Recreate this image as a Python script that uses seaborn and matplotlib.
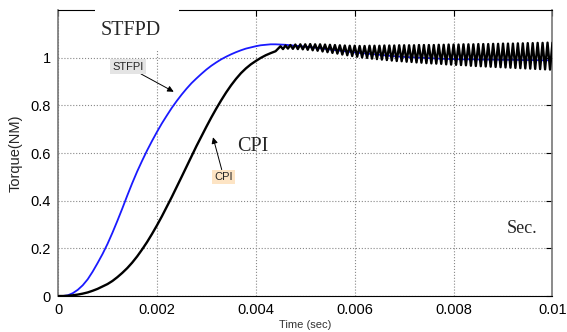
import numpy as np
import pandas as pd
import matplotlib
matplotlib.use('Agg')
import matplotlib.pyplot as plt
from matplotlib.patches import Rectangle
import seaborn as sns

# STFPI (blue) torque: every 0.1 ms from 0 to 5 ms ...
stfpi_rise_time = np.round(np.arange(0, 51) * 0.0001, 6)
stfpi_rise = [
    0.000, 0.000, 0.003, 0.012, 0.026, 0.045, 0.070, 0.102, 0.138, 0.176,
    0.218, 0.265, 0.315, 0.367, 0.421, 0.473, 0.522, 0.567, 0.610, 0.650,
    0.688, 0.724, 0.757, 0.789, 0.818, 0.845, 0.870, 0.893, 0.913, 0.932,
    0.950, 0.966, 0.980, 0.993, 1.004, 1.014, 1.023, 1.031, 1.038, 1.043,
    1.048, 1.052, 1.054, 1.056, 1.056, 1.055, 1.054, 1.052, 1.050, 1.048,
    1.046,
]
# ... then every 0.2 ms from 5.2 ms to 10 ms
stfpi_tail_time = np.round(0.005 + np.arange(1, 26) * 0.0002, 6)
stfpi_tail = [
    1.042, 1.037, 1.032, 1.027, 1.022, 1.018, 1.014, 1.010, 1.006, 1.003,
    1.001, 0.999, 0.997, 0.995, 0.994, 0.993, 0.993, 0.992, 0.992, 0.991,
    0.991, 0.990, 0.990, 0.989, 0.989,
]

# CPI (black) rise, every 0.1 ms from 0 to 4.4 ms
cpi_rise_time = np.round(np.arange(0, 45) * 0.0001, 6)
cpi_rise = [
    0.000, 0.000, 0.001, 0.003, 0.006, 0.010, 0.015, 0.022, 0.030, 0.040,
    0.050, 0.063, 0.079, 0.097, 0.117, 0.140, 0.166, 0.195, 0.226, 0.260,
    0.296, 0.334, 0.374, 0.415, 0.457, 0.500, 0.543, 0.586, 0.629, 0.670,
    0.710, 0.749, 0.786, 0.821, 0.854, 0.884, 0.911, 0.935, 0.955, 0.972,
    0.986, 0.999, 1.010, 1.019, 1.027,
]

# CPI ripple: peaks every 0.1 ms from 4.5 ms, troughs half a period later
cpi_peaks = [
    1.048, 1.051, 1.053, 1.055, 1.056, 1.056, 1.057, 1.056, 1.056, 1.055,
    1.054, 1.053, 1.052, 1.051, 1.050, 1.050, 1.049, 1.049, 1.050, 1.050,
    1.050, 1.051, 1.051, 1.051, 1.052, 1.052, 1.052, 1.052, 1.053, 1.053,
    1.053, 1.053, 1.054, 1.054, 1.055, 1.055, 1.055, 1.056, 1.056, 1.056,
    1.057, 1.057, 1.057, 1.058, 1.058, 1.059, 1.059, 1.059, 1.060, 1.060,
    1.061, 1.061, 1.062, 1.062, 1.063, 1.063,
]
cpi_troughs = [
    1.036, 1.038, 1.037, 1.036, 1.035, 1.033, 1.031, 1.029, 1.026, 1.023,
    1.020, 1.017, 1.013, 1.010, 1.007, 1.004, 1.001, 0.999, 0.996, 0.994,
    0.992, 0.990, 0.988, 0.986, 0.985, 0.983, 0.982, 0.980, 0.979, 0.977,
    0.976, 0.975, 0.974, 0.972, 0.971, 0.970, 0.969, 0.968, 0.966, 0.965,
    0.964, 0.963, 0.962, 0.961, 0.960, 0.959, 0.958, 0.957, 0.956, 0.955,
    0.954, 0.953, 0.952, 0.951, 0.950,
]

x_ticks = [0, 0.002, 0.004, 0.006, 0.008, 0.01]
x_tick_labels = ['0', '0.002', '0.004', '0.006', '0.008', '0.01']
y_ticks = [0, 0.2, 0.4, 0.6, 0.8, 1.0]
y_tick_labels = ['0', '0.2', '0.4', '0.6', '0.8', '1']

# assemble the CPI series: rise, then alternating peak / trough
ripple_time = []
ripple_val = []
for k, p in enumerate(cpi_peaks):
    ripple_time.append(round(0.0045 + k * 0.0001, 6))
    ripple_val.append(p)
    if k < len(cpi_troughs):
        ripple_time.append(round(0.00455 + k * 0.0001, 6))
        ripple_val.append(cpi_troughs[k])

df = pd.concat([
    pd.DataFrame({'time': np.concatenate([stfpi_rise_time, stfpi_tail_time]),
                  'torque': stfpi_rise + stfpi_tail, 'ctrl': 'STFPI'}),
    pd.DataFrame({'time': np.concatenate([cpi_rise_time, ripple_time]),
                  'torque': cpi_rise + ripple_val, 'ctrl': 'CPI'}),
])

sns.set_style('white')
plt.rcParams['font.family'] = ['Liberation Sans', 'DejaVu Sans']

fig = plt.figure(figsize=(5.67, 3.32), dpi=100)
ax = fig.add_axes([0.1023, 0.1084, 0.8721, 0.8615])

sns.lineplot(data=df[df.ctrl == 'STFPI'], x='time', y='torque', color='#1a1aff',
             linewidth=1.3, estimator=None, sort=False, ax=ax, zorder=3)
sns.lineplot(data=df[df.ctrl == 'CPI'], x='time', y='torque', color='black',
             linewidth=1.7, estimator=None, sort=False, ax=ax, zorder=4)

ax.set_xlim(0, 0.01)
ax.set_ylim(0, 1.2)
ax.set_xticks(x_ticks)
ax.set_xticklabels(x_tick_labels)
ax.set_yticks(y_ticks)
ax.set_yticklabels(y_tick_labels)
ax.tick_params(direction='in', top=True, right=True, length=4, width=0.8,
               labelsize=10.5, pad=5, colors='black')
ax.grid(True, linestyle=':', color='#888888', linewidth=0.8)

for side in ['top', 'bottom']:
    ax.spines[side].set_color('black')
for side in ['left', 'right']:
    ax.spines[side].set_color('#777777')
    ax.spines[side].set_linewidth(1.2)

ax.set_xlabel('Time (sec)', fontsize=8, color='#333333', labelpad=2)
ax.set_ylabel('Torque(NM)', fontsize=10.5, labelpad=6)

# white patch over the top frame behind the "STFPD" title
ax.add_patch(Rectangle((0.0748, 0.86), 0.170, 0.15, transform=ax.transAxes,
                       facecolor='white', edgecolor='none', clip_on=False, zorder=5))

ax.text(0.00146, 1.116, 'STFPD', family='Liberation Serif', fontsize=14.5,
        ha='center', va='center', zorder=6)
ax.text(0.00394, 0.627, 'CPI', family='Liberation Serif', fontsize=14.5,
        ha='center', va='center', zorder=6)
ax.text(0.00938, 0.283, 'Sec.', family='Liberation Serif', fontsize=13,
        ha='center', va='center', zorder=6)

ax.annotate('STFPI', xy=(0.00234, 0.857), xytext=(0.00141, 0.962),
            fontsize=8, ha='center', va='center', zorder=6,
            bbox=dict(boxstyle='square,pad=0.2', fc='#e4e4e4', ec='none'),
            arrowprops=dict(arrowstyle='-|>', color='black', lw=0.7,
                            mutation_scale=9, shrinkA=0, shrinkB=0))
ax.annotate('CPI', xy=(0.003135, 0.666), xytext=(0.00335, 0.50),
            fontsize=8, ha='center', va='center', zorder=6,
            bbox=dict(boxstyle='square,pad=0.2', fc='#fde4c4', ec='none'),
            arrowprops=dict(arrowstyle='-|>', color='black', lw=0.7,
                            mutation_scale=9, shrinkA=0, shrinkB=0))

fig.savefig('out.png', dpi=100)
